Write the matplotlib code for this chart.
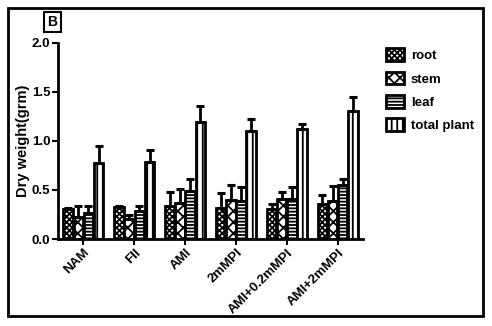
import numpy as np
import matplotlib
matplotlib.use('Agg')
import matplotlib.pyplot as plt

plt.rcParams['font.family'] = ['Liberation Sans', 'DejaVu Sans']
plt.rcParams['font.weight'] = 'bold'
plt.rcParams['hatch.linewidth'] = 1.3

groups = ['NAM', 'FII', 'AMI', '2mMPI', 'AMI+0.2mMPI', 'AMI+2mMPI']
series = ['root', 'stem', 'leaf', 'total plant']

root = [0.31, 0.33, 0.335, 0.32, 0.31, 0.36]
stem = [0.22, 0.20, 0.37, 0.40, 0.41, 0.39]
leaf = [0.26, 0.285, 0.49, 0.39, 0.41, 0.55]
total = [0.77, 0.78, 1.19, 1.095, 1.12, 1.30]

root_err = [0.01, 0.01, 0.145, 0.15, 0.045, 0.09]
stem_err = [0.115, 0.04, 0.14, 0.15, 0.07, 0.15]
leaf_err = [0.08, 0.055, 0.12, 0.14, 0.12, 0.06]
total_err = [0.18, 0.125, 0.16, 0.125, 0.05, 0.15]

values = [root, stem, leaf, total]
errors = [root_err, stem_err, leaf_err, total_err]
hatches = ['xxxxxx', 'xxx', '-----', '|||']

fig = plt.figure(figsize=(4.92, 3.26), dpi=100)
fig.patch.set_facecolor('white')

# outer frame
fig.add_artist(plt.Rectangle((8 / 492, 1 - 316 / 326), 475 / 492, 308 / 326,
                             transform=fig.transFigure, fill=False, lw=2, ec='black'))

ax = fig.add_axes([58 / 492, 1 - 239 / 326, 305 / 492, 196.5 / 326])

x = np.arange(len(groups))
w = 0.2
for i in range(4):
    pos = x + (i - 1.5) * w
    ax.bar(pos, values[i], width=w * 0.95, color='white', edgecolor='black',
           linewidth=2, hatch=hatches[i], label=series[i], zorder=2)
    ax.errorbar(pos, values[i], yerr=[np.zeros(len(groups)), errors[i]], fmt='none',
                ecolor='black', elinewidth=2, capsize=3, capthick=2.2, zorder=3)

ax.set_xlim(-0.5, 5.5)
ax.set_ylim(0, 2.0)
ax.set_yticks([0.0, 0.5, 1.0, 1.5, 2.0])
ax.set_yticklabels(['0.0', '0.5', '1.0', '1.5', '2.0'], fontsize=9.5, fontweight='bold')
ax.set_xticks(x)
ax.set_xticklabels(groups, rotation=45, ha='right', rotation_mode='anchor',
                   fontsize=9.5, fontweight='bold')
ax.tick_params(axis='both', direction='out', length=4, width=1.5, pad=1.5)
ax.spines['top'].set_visible(False)
ax.spines['right'].set_visible(False)
ax.spines['left'].set_linewidth(2)
ax.spines['bottom'].set_linewidth(2)
ax.set_ylabel('Dry weight(grm)', fontsize=10.5, fontweight='bold', labelpad=1)

fig.text(52.5 / 492, 1 - 22 / 326, 'B', fontsize=10, fontweight='bold', ha='center', va='center',
         bbox=dict(boxstyle='square,pad=0.25', fc='white', ec='black', lw=1.5))

ax.legend(loc='upper left', bbox_to_anchor=(374 / 492, 1 - 36.5 / 326),
          bbox_transform=fig.transFigure, frameon=False,
          handlelength=1.4, handleheight=1.1, labelspacing=0.72, handletextpad=0.5,
          prop={'weight': 'bold', 'size': 9.5})

fig.savefig('out.png', dpi=100)
